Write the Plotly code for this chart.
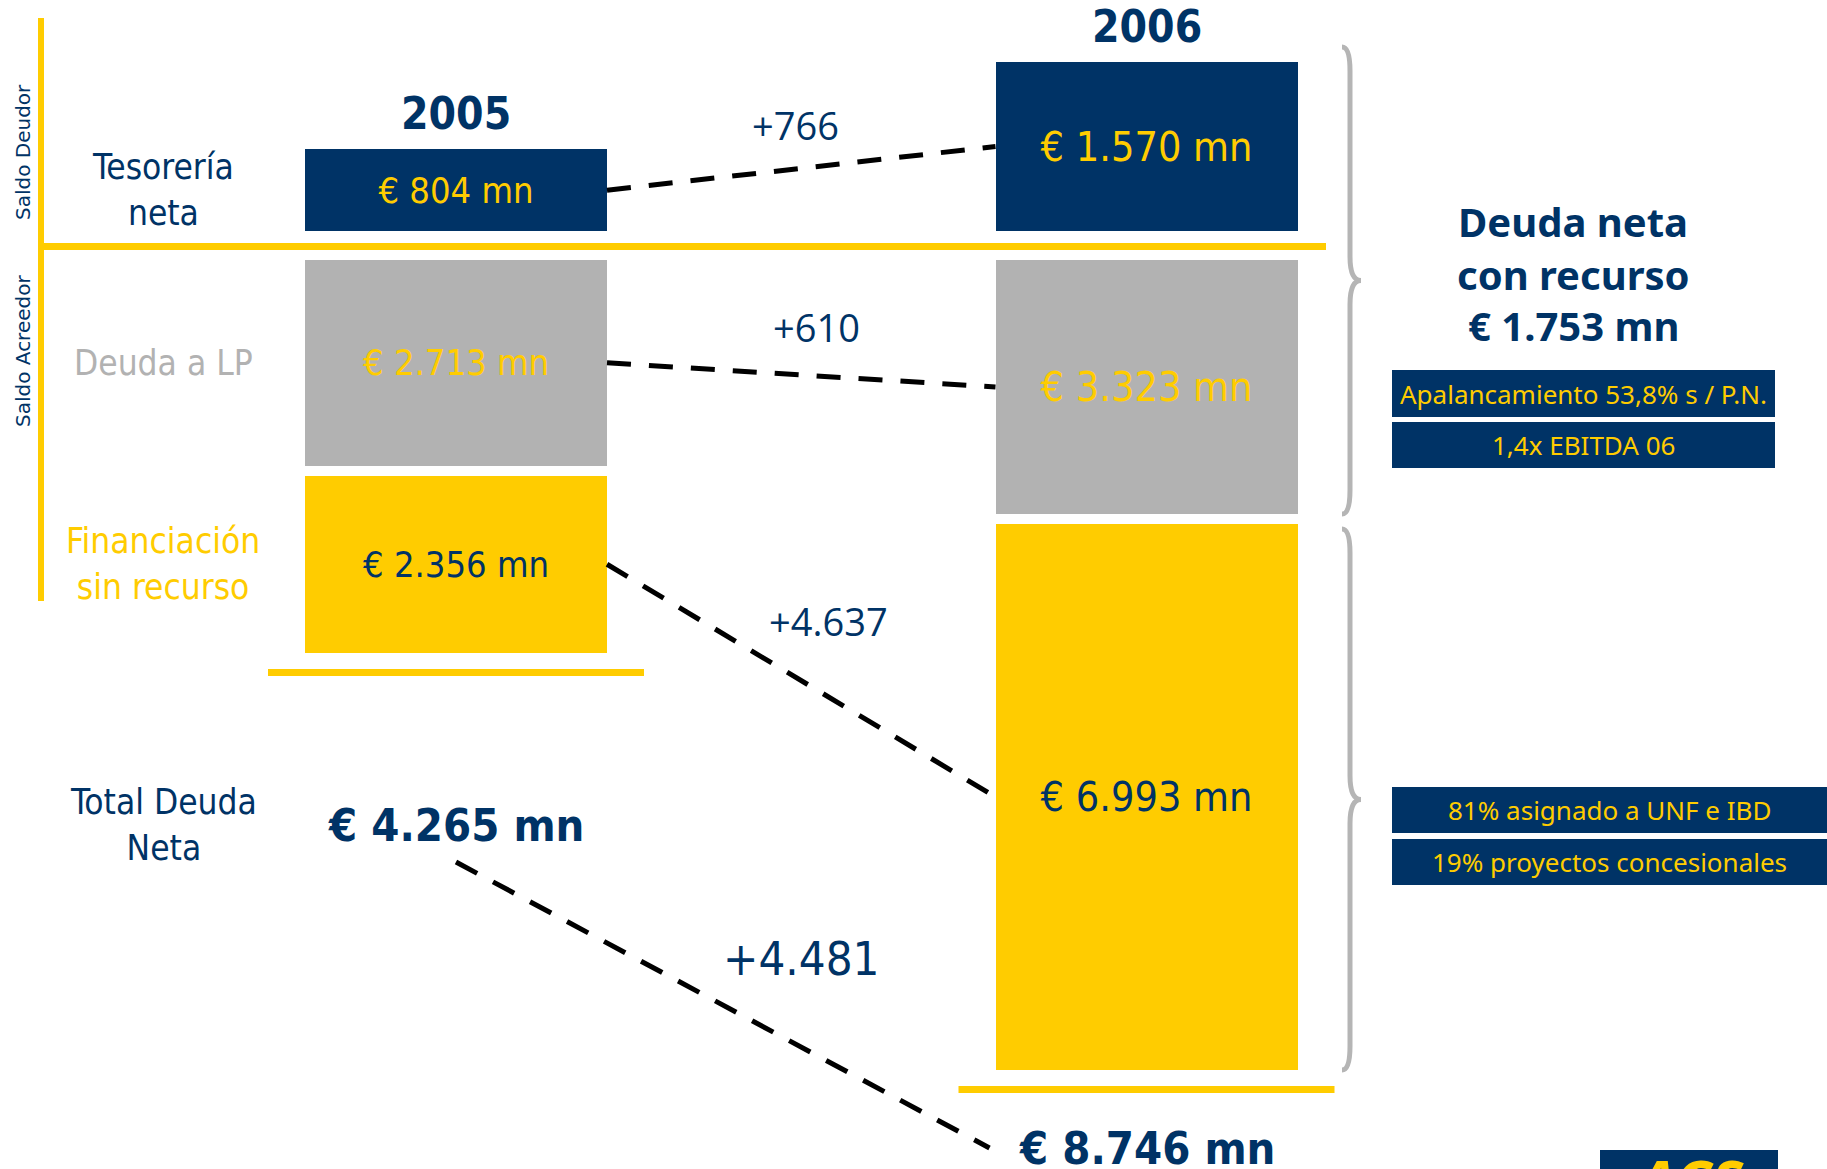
import plotly.graph_objects as go

# ---------------- data (millones de euros) ----------------
years = ["2005", "2006"]
tesoreria_neta = [804, 1570]            # saldo deudor
deuda_lp = [2713, 3323]                 # saldo acreedor
financiacion_sin_recurso = [2356, 6993] # saldo acreedor

row_labels = ["Tesorería<br>neta", "Deuda a LP", "Financiación<br>sin recurso", "Total Deuda<br>Neta"]
section_labels = ["Saldo Deudor", "Saldo Acreedor"]
side_title = ["Deuda neta", "con recurso"]
notes_con_recurso = ["Apalancamiento 53,8% s / P.N.", "1,4x EBITDA 06"]
notes_sin_recurso = ["81% asignado a UNF e IBD", "19% proyectos concesionales"]
logo_text = "ACS"

# derived figures
total_deuda = [l + f - t for t, l, f in zip(tesoreria_neta, deuda_lp, financiacion_sin_recurso)]
deuda_con_recurso_06 = deuda_lp[1] - tesoreria_neta[1]


def miles(v):
    return f"{v:,}".replace(",", ".")


def mn(v):
    return f"€ {miles(v)} mn"


def delta(a, b):
    return f"+{miles(b - a)}"


# ---------------- styling / geometry ----------------
W, H = 1827, 1169
NAVY = "#003366"
YELLOW = "#FFCC00"
GREY = "#B2B2B2"
BRACE = "#B5B5B5"
COND = "DejaVu Sans Condensed, Roboto Condensed, Liberation Sans Narrow, Roboto, sans-serif"
OPEN = "Open Sans, sans-serif"
NOTO = "Noto Sans, sans-serif"
VERD = "DejaVu Sans, sans-serif"

X0_PX, PX_PER_X = 456, 690.5      # x=0 -> 2005 column, x=1 -> 2006 column
BAR_W_PX, OUTLINE = 312, 10
BAR_W = BAR_W_PX / PX_PER_X
TOP_ZERO, TOP_MAX = 236, 2070      # upper panel: cash position
BOT_ZERO, BOT_MAX = 255, 11500     # lower panel: debt (downwards)


def px_x(x):
    return X0_PX + x * PX_PER_X


def py_top(v):
    return TOP_ZERO - v * TOP_ZERO / TOP_MAX


def py_bot(v):
    return BOT_ZERO + v * (H - BOT_ZERO) / BOT_MAX


def fx(px):
    return px / W


def fy(py):
    return 1 - py / H


xs = [0, 1]
fig = go.Figure()

bar_common = dict(x=xs, width=BAR_W, textposition="inside", insidetextanchor="middle",
                  textangle=0, constraintext="none", hoverinfo="skip", showlegend=False)
label_sizes = [36, 41]

fig.add_bar(y=tesoreria_neta, yaxis="y",
            marker=dict(color=NAVY, line=dict(color="white", width=OUTLINE)),
            text=[mn(v) for v in tesoreria_neta],
            textfont=dict(family=COND, color=YELLOW, size=label_sizes), **bar_common)
fig.add_bar(y=deuda_lp, yaxis="y2",
            marker=dict(color=GREY, line=dict(color="white", width=OUTLINE)),
            text=[mn(v) for v in deuda_lp],
            textfont=dict(family=COND, color=YELLOW, size=label_sizes), **bar_common)
fig.add_bar(y=financiacion_sin_recurso, yaxis="y2",
            marker=dict(color=YELLOW, line=dict(color="white", width=OUTLINE)),
            text=[mn(v) for v in financiacion_sin_recurso],
            textfont=dict(family=COND, color=NAVY, size=label_sizes), **bar_common)

# dashed connectors between the 2005 and 2006 boxes
hw = (BAR_W_PX / 2 - OUTLINE / 2) / PX_PER_X
dash = dict(color="black", width=5, dash="24px,18px")
centers = [
    ("y", [v / 2 for v in tesoreria_neta]),
    ("y2", [v / 2 for v in deuda_lp]),
    ("y2", [l + f / 2 for l, f in zip(deuda_lp, financiacion_sin_recurso)]),
]
for ax, cy in centers:
    fig.add_trace(go.Scatter(x=[hw, 1 - hw], y=cy, yaxis=ax, mode="lines", line=dash,
                             hoverinfo="skip", showlegend=False))

ann = []


def text(t, x, y, size, color=NAVY, family=COND, bold=False, xref="paper", yref="paper", **kw):
    kw.setdefault("xanchor", "center")
    kw.setdefault("yanchor", "middle")
    ann.append(dict(text=f"<b>{t}</b>" if bold else t, x=x, y=y, xref=xref, yref=yref,
                    showarrow=False, font=dict(family=family, size=size, color=color), **kw))


# change labels above connectors
diff_pairs = [tesoreria_neta, deuda_lp, financiacion_sin_recurso]
shifts = [(-6, 43), (15, 48), (27, 60)]
for (ax, cy), pair, (dx, dy) in zip(centers, diff_pairs, shifts):
    text(delta(*pair), 0.5, (cy[0] + cy[1]) / 2, 38, family=OPEN, xref="x", yref=ax,
         xshift=dx, yshift=dy)

# year headers
for i, yr in enumerate(years):
    text(yr, i, tesoreria_neta[i], 44, bold=True, xref="x", yref="y", yshift=31)

# row labels aligned with the 2005 boxes
LABEL_X = fx(163)
text(row_labels[0], LABEL_X, tesoreria_neta[0] / 2, 35, yref="y")
text(row_labels[1], LABEL_X, deuda_lp[0] / 2, 35, color=GREY, yref="y2")
text(row_labels[2], LABEL_X, deuda_lp[0] + financiacion_sin_recurso[0] / 2, 35,
     color=YELLOW, yref="y2")
TOTAL_Y = [825, 1148]
text(row_labels[3], LABEL_X, fy(TOTAL_Y[0]), 35)

# totals
for i in range(2):
    text(mn(total_deuda[i]), i, fy(TOTAL_Y[i]), 45, bold=True, xref="x")
text(delta(*total_deuda), 0.5, fy(958), 47, xref="x")

# section labels on the left rule
text(section_labels[0], fx(23), fy(152), 20, family=VERD, textangle=-90)
text(section_labels[1], fx(23), fy(351), 20, family=VERD, textangle=-90)

# right-hand commentary
for line, py in zip(side_title + [mn(deuda_con_recurso_06)], [221, 274, 325]):
    text(line, fx(1573), fy(py), 40, family=NOTO, bold=True)

shapes = []


def rect(x0, y0, x1, y1, color):
    shapes.append(dict(type="rect", xref="paper", yref="paper", x0=fx(x0), x1=fx(x1),
                       y0=fy(y0), y1=fy(y1), fillcolor=color, line=dict(width=0), layer="below"))


def seg(x0, y0, x1, y1, color, width, dash_style="solid"):
    shapes.append(dict(type="line", xref="paper", yref="paper", x0=fx(x0), x1=fx(x1),
                       y0=fy(y0), y1=fy(y1), line=dict(color=color, width=width, dash=dash_style)))


note_boxes = [
    (notes_con_recurso[0], 1392, 1775, 370, 417),
    (notes_con_recurso[1], 1392, 1775, 422, 468),
    (notes_sin_recurso[0], 1392, 1827, 787, 833),
    (notes_sin_recurso[1], 1392, 1827, 839, 885),
]
for t, x0, x1, y0, y1 in note_boxes:
    rect(x0, y0, x1, y1, NAVY)
    text(t, fx((x0 + x1) / 2), fy((y0 + y1) / 2), 26, color=YELLOW, family=NOTO)

# section rules
seg(41, 18, 41, 601, YELLOW, 6)
seg(38, 246.5, 1326, 246.5, YELLOW, 7)

# sum rules under each column
for i in range(2):
    bottom = py_bot(deuda_lp[i] + financiacion_sin_recurso[i]) - OUTLINE / 2
    cx = px_x(i)
    seg(cx - 188, bottom + 19.5, cx + 188, bottom + 19.5, YELLOW, 7)

# connector between the two totals
seg(px_x(0), TOTAL_Y[0] + 37, px_x(1) - 157, TOTAL_Y[1], "black", 5, "24px,18px")


# curly braces grouping the 2006 column
def brace(y0, y1, xm=1350, xl=1342, xt=1361, r=24):
    ym = (y0 + y1) / 2
    P = lambda x, y: f"{fx(x)},{fy(y)}"
    path = (f"M {P(xl, y0)} Q {P(xm, y0)} {P(xm, y0 + r)} L {P(xm, ym - r)} "
            f"Q {P(xm, ym)} {P(xt, ym)} Q {P(xm, ym)} {P(xm, ym + r)} "
            f"L {P(xm, y1 - r)} Q {P(xm, y1)} {P(xl, y1)}")
    shapes.append(dict(type="path", xref="paper", yref="paper", path=path,
                       line=dict(color=BRACE, width=5)))


brace(py_top(tesoreria_neta[1]) - 10, py_bot(deuda_lp[1]) - OUTLINE / 2)
brace(py_bot(deuda_lp[1]) + OUTLINE, py_bot(deuda_lp[1] + financiacion_sin_recurso[1]) - OUTLINE / 2)

# corporate mark
rect(1600, 1150, 1778, 1190, NAVY)
text(f"<i>{logo_text}</i>", fx(1689), fy(1180), 60, color=YELLOW, family=NOTO, bold=True)

fig.update_layout(
    width=W, height=H, margin=dict(l=0, r=0, t=0, b=0), autosize=False,
    paper_bgcolor="white", plot_bgcolor="white", barmode="stack", showlegend=False,
    xaxis=dict(range=[-X0_PX / PX_PER_X, (W - X0_PX) / PX_PER_X], visible=False, fixedrange=True),
    yaxis=dict(domain=[fy(TOP_ZERO), 1], range=[0, TOP_MAX], visible=False, fixedrange=True),
    yaxis2=dict(domain=[0, fy(BOT_ZERO)], range=[BOT_MAX, 0], visible=False, fixedrange=True,
                anchor="x"),
    annotations=ann, shapes=shapes,
)

fig.write_html("out.html")
